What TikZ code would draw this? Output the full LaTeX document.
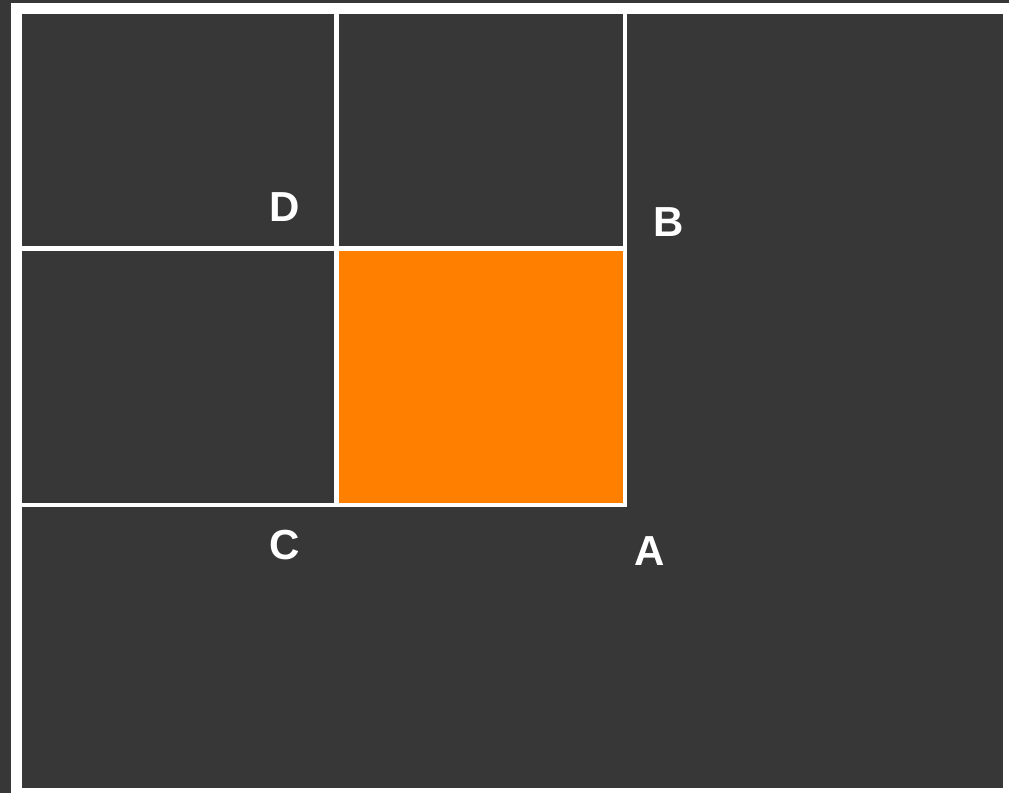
\documentclass[tikz,border=0pt]{standalone}
\usepackage{fontspec}
\setmainfont{Liberation Sans}
\definecolor{bgdark}{HTML}{373737}
\definecolor{cellorange}{HTML}{FF7F00}
\tikzset{
  gridline/.style={draw=white, line width=4.5pt},
  lbl/.style={text=white, font=\fontsize{42}{42}\selectfont\bfseries, inner sep=0pt},
}
\begin{document}
\begin{tikzpicture}[x=1pt,y=-1pt]
\useasboundingbox (0,0) rectangle (1009,793);
\fill[bgdark] (0,0) rectangle (1009,793);
\fill[white] (11,3) rectangle (1009,793);
\fill[bgdark] (22,14) rectangle (1003,788);
\fill[cellorange] (338,248) rectangle (625,505);
\coordinate (vt) at (336.5,14);
\coordinate (vb) at (336.5,505);
\coordinate (rt) at (625,14);
\coordinate (rb) at (625,505);
\coordinate (hl) at (22,248.5);
\coordinate (hr) at (625,248.5);
\coordinate (bl) at (22,505);
\draw[gridline] (vt) -- (vb);
\draw[gridline] (hl) -- (hr);
\draw[gridline] (bl) -- (rb) -- (rt);
\node[lbl] (D) at (285,207) {D};
\node[lbl] (B) at (669,222) {B};
\node[lbl] (C) at (285,545) {C};
\node[lbl] (A) at (650,551) {A};
\end{tikzpicture}
\end{document}
